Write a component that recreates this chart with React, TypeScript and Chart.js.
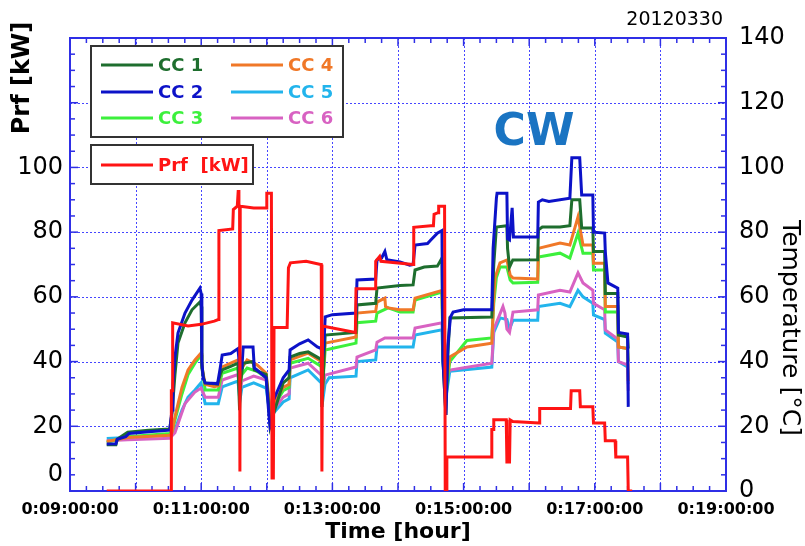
import React, { useEffect, useRef } from 'react';
import { Chart, registerables } from 'chart.js';

Chart.register(...registerables);

// ---------- data: [time (hour), value] ----------
const cc1Series: number[][] = [
  [9.56, 14.3], [9.7, 14.3], [9.72, 16], [9.88, 18.2], [10.2, 18.8], [10.52, 19.2], [10.555, 24], [10.6, 36],
  [10.646, 45.7], [10.753, 52], [10.86, 56], [10.98, 58.4], [11.0, 57], [11.01, 38], [11.04, 34.5], [11.06, 33.4],
  [11.25, 33], [11.29, 36], [11.32, 37.4], [11.45, 38.5], [11.56, 39.5], [11.585, 25], [11.6, 34], [11.64, 39.5],
  [11.79, 40], [11.81, 37.4], [11.99, 36], [12.03, 26], [12.05, 20], [12.09, 23], [12.25, 33.4], [12.34, 35],
  [12.355, 41.4], [12.5, 42.5], [12.63, 43], [12.8, 41], [12.83, 40.5], [12.84, 26], [12.87, 40], [12.89, 48.2],
  [13.36, 49], [13.375, 57.5], [13.66, 58], [13.68, 62.7], [14.03, 63.5], [14.23, 63.7], [14.26, 68.3], [14.4, 69.2],
  [14.6, 69.5], [14.67, 72], [14.686, 40], [14.73, 23.5], [14.76, 42], [14.79, 53.5], [15.43, 53.8], [15.46, 70],
  [15.5, 81.6], [15.66, 82], [15.67, 75], [15.7, 69.2], [15.75, 71.4], [16.13, 71.5], [16.14, 80.7], [16.2, 81.6],
  [16.47, 81.6], [16.62, 82], [16.65, 90], [16.77, 90], [16.8, 81.3], [16.97, 81.3], [16.98, 74], [17.15, 74],
  [17.16, 61], [17.35, 61], [17.36, 48.2], [17.5, 47.6], [17.51, 44],
];

const cc2Series: number[][] = [
  [9.56, 14.5], [9.7, 14.6], [9.72, 16], [9.85, 16.8], [9.9, 17.8], [10.2, 18.3], [10.52, 18.8], [10.555, 25],
  [10.57, 33], [10.6, 41.4], [10.646, 48.8], [10.753, 55], [10.86, 59], [10.98, 62.7], [11.0, 61], [11.01, 40],
  [11.03, 35], [11.06, 33.4], [11.25, 33.2], [11.29, 38], [11.32, 42], [11.45, 42.5], [11.56, 44], [11.59, 37.4],
  [11.62, 38], [11.64, 44.5], [11.79, 44.5], [11.81, 38], [11.85, 37.4], [11.99, 35], [12.03, 24], [12.05, 20],
  [12.09, 22], [12.1, 28], [12.25, 35], [12.34, 37.4], [12.355, 43.6], [12.5, 45.5], [12.63, 46.7], [12.77, 44.5],
  [12.83, 44], [12.84, 39.5], [12.87, 45], [12.89, 53.8], [13.0, 54.5], [13.36, 55], [13.375, 65.2], [13.66, 65.5],
  [13.68, 71.4], [13.75, 72], [13.8, 74], [13.83, 71.5], [14.03, 70.8], [14.18, 69.8], [14.23, 70], [14.26, 76],
  [14.45, 76.5], [14.5, 77.6], [14.6, 79.7], [14.67, 80.5], [14.686, 40], [14.73, 23.5], [14.76, 45], [14.8, 53.8],
  [14.84, 55.3], [15.0, 56], [15.43, 56], [15.45, 75], [15.5, 90.5], [15.51, 92], [15.66, 92], [15.67, 78],
  [15.7, 77.6], [15.74, 87.5], [15.76, 78.5], [16.13, 78.5], [16.14, 89.3], [16.2, 90], [16.3, 89.5], [16.62, 90.5],
  [16.65, 103], [16.77, 103], [16.8, 91.5], [16.97, 91.5], [16.98, 80], [17.15, 79.7], [17.16, 74], [17.2, 64.3],
  [17.35, 62.7], [17.36, 49], [17.5, 48.5], [17.51, 26],
];

const cc3Series: number[][] = [
  [9.56, 15.0], [9.88, 16.8], [10.52, 17.8], [10.555, 18.5], [10.6, 22], [10.707, 30], [10.8, 36], [10.905, 39.5],
  [10.997, 42], [11.01, 39], [11.06, 31.2], [11.26, 31.2], [11.29, 34], [11.32, 36.4], [11.56, 38], [11.59, 32],
  [11.62, 36], [11.7, 38], [11.85, 37], [11.99, 35], [12.03, 28], [12.06, 23], [12.1, 26], [12.25, 31],
  [12.34, 32], [12.355, 39.5], [12.63, 41], [12.83, 38.5], [12.84, 27], [12.87, 38], [12.89, 43.6], [13.36, 45.7],
  [13.375, 52], [13.66, 52.5], [13.68, 55], [13.85, 56.6], [14.03, 55.3], [14.23, 55.3], [14.26, 59], [14.67, 61.5],
  [14.686, 42], [14.73, 30], [14.79, 40], [15.05, 46.5], [15.43, 47.3], [15.46, 58], [15.5, 66], [15.555, 69.2],
  [15.66, 69.2], [15.71, 65.2], [15.753, 64.3], [16.13, 64.5], [16.14, 72.3], [16.47, 73.5], [16.62, 72], [16.744, 79.7],
  [16.82, 73.5], [16.97, 73.5], [16.98, 68.3], [17.15, 68.3], [17.16, 55.3], [17.35, 55.3], [17.36, 44.5], [17.5, 44],
  [17.51, 40],
];

const cc4Series: number[][] = [
  [9.56, 15.3], [9.88, 16.5], [10.52, 17.2], [10.555, 18], [10.6, 23], [10.707, 32], [10.8, 37.4], [10.905, 40.5],
  [10.997, 42.6], [11.01, 40], [11.02, 37.4], [11.06, 33], [11.2, 32.2], [11.26, 32.5], [11.29, 36], [11.32, 38.3],
  [11.45, 39.5], [11.56, 40.5], [11.59, 34], [11.62, 38], [11.7, 40.5], [11.85, 39], [11.99, 36.4], [12.03, 29],
  [12.06, 24], [12.1, 27], [12.25, 32], [12.34, 33], [12.355, 40.5], [12.63, 42.6], [12.83, 40], [12.84, 29],
  [12.87, 40], [12.89, 45.7], [13.36, 47.6], [13.375, 55], [13.66, 55.5], [13.68, 58.4], [13.8, 59.6], [13.81, 57],
  [13.85, 56.6], [14.03, 56], [14.23, 56], [14.26, 59.6], [14.67, 62], [14.686, 45], [14.73, 32], [14.79, 41.4],
  [15.05, 44.5], [15.43, 45.7], [15.46, 60], [15.48, 66], [15.555, 70.5], [15.66, 71.4], [15.71, 66.7], [15.753, 65.8],
  [16.13, 65.5], [16.14, 75], [16.47, 76.6], [16.62, 76], [16.744, 84.7], [16.82, 76], [16.97, 76], [16.98, 70.4],
  [17.15, 70.4], [17.16, 57], [17.35, 57], [17.36, 44.5], [17.5, 44], [17.51, 34],
];

const cc5Series: number[][] = [
  [9.56, 16.2], [9.88, 16.5], [10.52, 17.3], [10.601, 19], [10.707, 25], [10.8, 29], [10.905, 31.2], [10.997, 33.4],
  [11.06, 27], [11.26, 27], [11.32, 32.2], [11.56, 34], [11.59, 28], [11.62, 32], [11.8, 33.4], [11.99, 31.8],
  [12.03, 26], [12.06, 22], [12.1, 24], [12.25, 27.5], [12.34, 28.5], [12.355, 35], [12.63, 37.4], [12.83, 33.4],
  [12.84, 26], [12.887, 33], [12.95, 35], [13.36, 35.5], [13.375, 40], [13.66, 40.5], [13.68, 44.5], [14.03, 44.5],
  [14.23, 44.5], [14.26, 48.2], [14.67, 49.8], [14.686, 40], [14.73, 29], [14.79, 37], [15.43, 38.3], [15.46, 49],
  [15.555, 53.5], [15.66, 53], [15.7, 50], [15.753, 52.8], [16.13, 52.8], [16.14, 57], [16.47, 58], [16.62, 57],
  [16.744, 62], [16.82, 60], [16.97, 58], [16.98, 54.4], [17.15, 53], [17.16, 48.8], [17.35, 46], [17.36, 40],
  [17.5, 38.3], [17.51, 33],
];

const cc6Series: number[][] = [
  [9.56, 15.5], [9.88, 15.8], [10.52, 16.3], [10.6, 18], [10.753, 27], [10.9, 30.5], [10.997, 31.8], [11.06, 29],
  [11.26, 29], [11.32, 34.3], [11.56, 36], [11.59, 30], [11.62, 34], [11.8, 35.5], [11.99, 34.3], [12.03, 27],
  [12.06, 24], [12.1, 25], [12.25, 29], [12.34, 30], [12.355, 38], [12.63, 39.5], [12.83, 35.8], [12.84, 29],
  [12.887, 35.8], [13.36, 38.3], [13.375, 41.4], [13.66, 43.6], [13.68, 46], [13.8, 47.3], [14.23, 47.3], [14.26, 50.4],
  [14.67, 52], [14.686, 45], [14.73, 35], [14.79, 37.4], [15.43, 39.5], [15.46, 50], [15.5, 52], [15.6, 57],
  [15.63, 55], [15.66, 50], [15.7, 49], [15.753, 55.3], [16.13, 56], [16.14, 60.6], [16.47, 62], [16.62, 61.5],
  [16.744, 67.4], [16.82, 64.3], [16.97, 62], [16.98, 58], [17.15, 56], [17.16, 49.8], [17.35, 47], [17.36, 40],
  [17.5, 39], [17.51, 31],
];

const prfSeries: number[][] = [
  [9.56, 0], [10.54, 0], [10.545, 31], [10.56, 31], [10.565, 52], [10.8, 51], [11.0, 51.5], [11.2, 52.5],
  [11.26, 53], [11.27, 80.5], [11.48, 81], [11.49, 87], [11.55, 88], [11.565, 93], [11.575, 88], [11.585, 88],
  [11.59, 6], [11.595, 88], [11.8, 87.5], [11.99, 87.5], [12.0, 92], [12.07, 92], [12.08, 4], [12.1, 4],
  [12.11, 50.5], [12.31, 50.5], [12.33, 69], [12.36, 70.5], [12.6, 71], [12.82, 70], [12.83, 70], [12.84, 6],
  [12.85, 51], [13.1, 50], [13.35, 49], [13.36, 62.5], [13.65, 62.5], [13.66, 71], [13.72, 72.5], [13.74, 71],
  [14.0, 70.5], [14.23, 70], [14.24, 81.5], [14.5, 82], [14.54, 82], [14.55, 85.5], [14.61, 86], [14.62, 88],
  [14.71, 88], [14.72, 0], [14.74, 0], [14.745, 10.5], [15.42, 10.5], [15.43, 19], [15.45, 19], [15.46, 22],
  [15.65, 22], [15.66, 9], [15.7, 9], [15.71, 22], [15.75, 21.5], [16.15, 21], [16.16, 25.5], [16.63, 25.5],
  [16.64, 31], [16.77, 31], [16.78, 26], [16.97, 26], [16.98, 21], [17.15, 21], [17.16, 15.5], [17.31, 15.5],
  [17.32, 10.5], [17.5, 10.5], [17.51, 0], [17.57, 0],
];

const seriesLabels = ['CC 1', 'CC 2', 'CC 3', 'CC 4', 'CC 5', 'CC 6', 'Prf  [kW]'];
const seriesColors = ['#1e6e2e', '#0c12c8', '#3cf03c', '#f07828', '#22b4ec', '#d862c2', '#ff1414'];
const seriesList = [cc1Series, cc2Series, cc3Series, cc4Series, cc5Series, cc6Series, prfSeries];
const drawOrder = [2, 1, 4, 3, 6, 5, 0];

const xMin = 9;
const xMax = 19;
const yMin = 0;
const yMax = 140;
const leftTickValues = [5, 20, 40, 60, 80, 100];
const leftTickLabels = ['0', '20', '40', '60', '80', '100'];
const rightTickValues = [0, 20, 40, 60, 80, 100, 120, 140];

const FONT = "'DejaVu Sans', 'Liberation Sans', sans-serif";
const AXIS_BLUE = '#2f2fe6';
const GRID_BLUE = '#4646ff';

function fmtHour(v: number): string {
  const h = Math.round(v);
  return '0:' + (h < 10 ? '0' + h : String(h)) + ':00:00';
}

const framePlugin = {
  id: 'frameTicks',
  beforeDatasetsDraw(chart: any) {
    const { ctx, chartArea: a, scales } = chart;
    const xs = scales.x;
    const ys = scales.yR;
    const seg = (x1: number, y1: number, x2: number, y2: number) => {
      ctx.beginPath();
      ctx.moveTo(x1, y1);
      ctx.lineTo(x2, y2);
      ctx.stroke();
    };
    ctx.save();
    // dotted grid
    ctx.strokeStyle = GRID_BLUE;
    ctx.lineWidth = 1;
    ctx.setLineDash([2, 2]);
    xs.ticks.forEach((t: any) => {
      const px = Math.round(xs.getPixelForValue(t.value)) + 0.5;
      seg(px, a.top, px, a.bottom);
    });
    ys.ticks.forEach((t: any) => {
      const py = Math.round(ys.getPixelForValue(t.value)) + 0.5;
      seg(a.left, py, a.right, py);
    });
    ctx.setLineDash([]);
    // frame
    ctx.strokeStyle = AXIS_BLUE;
    ctx.lineWidth = 2;
    ctx.strokeRect(a.left, a.top, a.right - a.left, a.bottom - a.top);
    // inner ticks
    ctx.lineWidth = 1.5;
    for (let i = 0; i <= (xMax - xMin) * 4; i++) {
      const h = xMin + i * 0.25;
      const px = xs.getPixelForValue(h);
      const len = i % 4 === 0 ? 8 : 5;
      seg(px, a.bottom, px, a.bottom - len);
      seg(px, a.top, px, a.top + len);
    }
    for (let v = yMin; v <= yMax; v += 5) {
      const py = ys.getPixelForValue(v);
      const len = v % 20 === 0 ? 8 : 5;
      seg(a.left, py, a.left + len, py);
      seg(a.right, py, a.right - len, py);
    }
    ctx.restore();
  },
};

const textPlugin = {
  id: 'texts',
  afterDraw(chart: any) {
    const { ctx, chartArea: a } = chart;
    ctx.save();
    ctx.fillStyle = '#000';
    ctx.textBaseline = 'middle';
    // left title
    ctx.save();
    ctx.translate(23, 78);
    ctx.rotate(-Math.PI / 2);
    ctx.textAlign = 'center';
    ctx.font = `bold 24px ${FONT}`;
    ctx.fillText('Prf [kW]', 0, 0);
    ctx.restore();
    // right title
    ctx.save();
    ctx.translate(789, 328);
    ctx.rotate(Math.PI / 2);
    ctx.textAlign = 'center';
    ctx.font = `25px ${FONT}`;
    ctx.fillText('Temperature [°C]', 0, 0);
    ctx.restore();
    // x title
    ctx.textAlign = 'center';
    ctx.font = `bold 22px ${FONT}`;
    ctx.fillText('Time [hour]', (a.left + a.right) / 2, 532);
    // date
    ctx.textAlign = 'right';
    ctx.font = `19px ${FONT}`;
    ctx.fillText('20120330', a.right - 3, 20);
    // CW
    ctx.textAlign = 'center';
    ctx.fillStyle = '#1a74c2';
    ctx.font = `bold 44px ${FONT}`;
    ctx.fillText('CW', 534, 134);
    ctx.restore();

    // legend boxes
    const ds = chart.data.datasets;
    ctx.save();
    ctx.fillStyle = '#fff';
    ctx.strokeStyle = '#333';
    ctx.lineWidth = 2;
    ctx.fillRect(91, 46, 252, 91);
    ctx.strokeRect(91, 46, 252, 91);
    ctx.fillRect(91, 145, 162, 39);
    ctx.strokeRect(91, 145, 162, 39);
    ctx.font = `bold 18px ${FONT}`;
    ctx.textAlign = 'left';
    ctx.textBaseline = 'middle';
    const rows = [65, 92, 118];
    const item = (i: number, x: number, y: number) => {
      ctx.strokeStyle = ds[i].borderColor;
      ctx.lineWidth = 3;
      ctx.beginPath();
      ctx.moveTo(x, y);
      ctx.lineTo(x + 52, y);
      ctx.stroke();
      ctx.fillStyle = ds[i].borderColor;
      ctx.fillText(ds[i].label, x + 57, y + 1);
    };
    for (let i = 0; i < 6; i++) {
      const col = Math.floor(i / 3);
      item(i, col === 0 ? 101 : 231, rows[i % 3]);
    }
    item(6, 101, 165);
    ctx.restore();
  },
};

export default function App() {
  const ref = useRef<HTMLCanvasElement | null>(null);
  useEffect(() => {
    if (!ref.current) return;
    const datasets = seriesList.map((s, i) => ({
      label: seriesLabels[i],
      data: s.map((p) => ({ x: p[0], y: p[1] })),
      borderColor: seriesColors[i],
      backgroundColor: seriesColors[i],
      borderWidth: 3,
      pointRadius: 0,
      tension: 0,
      fill: false,
      order: drawOrder[i],
      yAxisID: i === 6 ? 'yL' : 'yR',
    }));
    const chart = new Chart(ref.current, {
      type: 'line',
      data: { datasets },
      options: {
        animation: false,
        responsive: false,
        maintainAspectRatio: false,
        layout: { padding: { top: 38, left: 0, right: 0, bottom: 0 } },
        plugins: { legend: { display: false }, tooltip: { enabled: false }, title: { display: false } },
        scales: {
          x: {
            type: 'linear',
            min: xMin,
            max: xMax,
            afterFit: (s: any) => { s.height = 55; },
            grid: { display: false, drawTicks: false },
            border: { display: false },
            ticks: {
              stepSize: 1,
              autoSkip: false,
              maxRotation: 0,
              padding: 9,
              color: '#000',
              font: { family: FONT, size: 16, weight: 'bold' },
              callback: (v: any) => (Math.round(v) % 2 === 1 ? fmtHour(v) : ''),
            },
          },
          yL: {
            type: 'linear',
            position: 'left',
            min: yMin,
            max: yMax,
            afterFit: (s: any) => { s.width = 70; },
            afterBuildTicks: (s: any) => { s.ticks = leftTickValues.map((v) => ({ value: v })); },
            grid: { display: false, drawTicks: false },
            border: { display: false },
            ticks: {
              padding: 7,
              color: '#000',
              font: { family: FONT, size: 24 },
              callback: (_v: any, i: number) => leftTickLabels[i],
            },
          },
          yR: {
            type: 'linear',
            position: 'right',
            min: yMin,
            max: yMax,
            afterFit: (s: any) => { s.width = 79; },
            afterBuildTicks: (s: any) => { s.ticks = rightTickValues.map((v) => ({ value: v })); },
            grid: { display: false, drawTicks: false },
            border: { display: false },
            ticks: {
              padding: 13,
              color: '#000',
              font: { family: FONT, size: 24 },
              callback: (v: any) => String(v),
            },
          },
        },
      } as any,
      plugins: [framePlugin, textPlugin],
    });
    return () => chart.destroy();
  }, []);
  return (
    <div style={{ position: 'absolute', left: 0, top: 0, width: 805, height: 546, background: '#fff' }}>
      <canvas ref={ref} width={805} height={546} />
    </div>
  );
}
